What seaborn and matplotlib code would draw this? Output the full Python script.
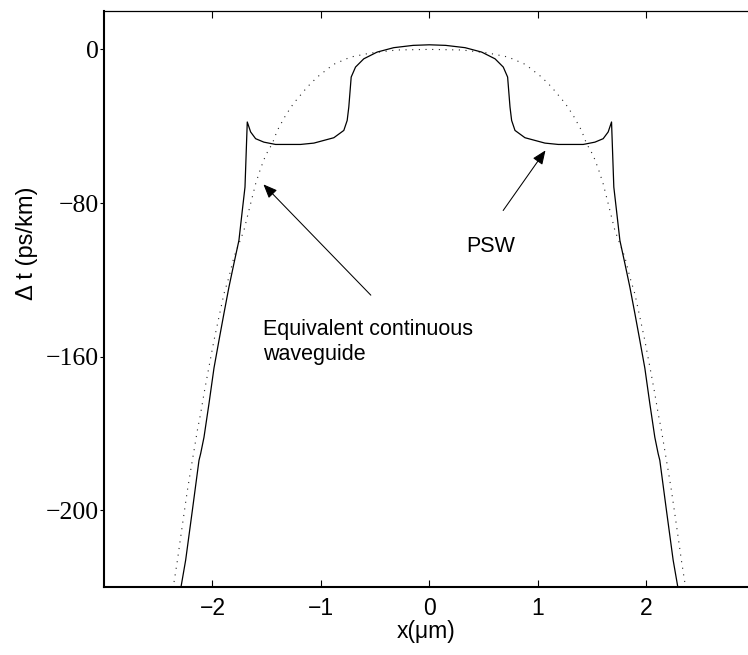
import numpy as np
import pandas as pd
import matplotlib
matplotlib.use("Agg")
import matplotlib.pyplot as plt
import seaborn as sns

# PSW curve (solid)
psw_x = [-2.29, -2.247, -2.185, -2.124, -2.109, -2.078, -2.032, -1.986, -1.94, -1.894,
         -1.848, -1.802, -1.756, -1.725, -1.70, -1.679, -1.648, -1.602, -1.526, -1.418,
         -1.188, -1.065, -0.973, -0.881, -0.789, -0.758, -0.743, -0.721, -0.681, -0.605,
         -0.482, -0.329, -0.15, 0.0,
         0.15, 0.329, 0.482, 0.605, 0.681, 0.721, 0.743, 0.758, 0.789, 0.881,
         0.973, 1.065, 1.188, 1.418, 1.526, 1.602, 1.648, 1.679, 1.70, 1.725,
         1.756, 1.802, 1.848, 1.894, 1.94, 1.986, 2.032, 2.078, 2.109, 2.124,
         2.185, 2.247, 2.29]
psw_y = [-280, -266, -240, -214, -210.6, -202, -184.5, -166, -151.6, -137.5,
         -123.8, -111.5, -99.5, -84, -71.7, -37.8, -43, -46.5, -48.3, -49.5,
         -49.5, -48.8, -47.4, -46, -42.2, -37, -30, -14.4, -9.2, -4.9,
         -1.4, 0.9, 2.1, 2.4,
         2.1, 0.9, -1.4, -4.9, -9.2, -14.4, -30, -37, -42.2, -46,
         -47.4, -48.8, -49.5, -49.5, -48.3, -46.5, -43, -37.8, -71.7, -84,
         -99.5, -111.5, -123.8, -137.5, -151.6, -166, -184.5, -202, -210.6, -214,
         -240, -266, -280]

# equivalent continuous waveguide (dotted)
ecw_x = [-2.354, -2.323, -2.293, -2.262, -2.231, -2.201, -2.170, -2.139, -2.109, -2.078,
         -2.041, -1.986, -1.94, -1.894, -1.848, -1.802, -1.71, -1.664, -1.602, -1.556,
         -1.510, -1.448, -1.402, -1.326, -1.252, -1.126, -1.034, -0.884, -0.727, -0.543,
         -0.30, 0.0,
         0.30, 0.543, 0.727, 0.884, 1.034, 1.126, 1.252, 1.326, 1.402, 1.448,
         1.510, 1.556, 1.602, 1.664, 1.71, 1.802, 1.848, 1.894, 1.94, 1.986,
         2.041, 2.078, 2.109, 2.139, 2.170, 2.201, 2.231, 2.262, 2.293, 2.323, 2.354]
ecw_y = [-277.4, -266.1, -254, -241.8, -229.7, -219.3, -208.9, -198.4, -189.7, -179.3,
         -168, -151.6, -139.4, -127.3, -118.6, -108.2, -94.3, -83.9, -70, -62,
         -55.2, -49, -42.2, -34.4, -28.1, -19.6, -14.4, -7.8, -4.0, -1.9,
         -0.3, 0.0,
         -0.3, -1.9, -4.0, -7.8, -14.4, -19.6, -28.1, -34.4, -42.2, -49,
         -55.2, -62, -70, -83.9, -94.3, -108.2, -118.6, -127.3, -139.4, -151.6,
         -168, -179.3, -189.7, -198.4, -208.9, -219.3, -229.7, -241.8, -254, -266.1, -277.4]

x_ticks = [-2, -1, 0, 1, 2]
x_tick_labels = ["\u22122", "\u22121", "0", "1", "2"]
y_ticks = [0, -80, -160, -240]
y_tick_labels = ["0", "\u221280", "\u2212160", "\u2212200"]

sns.set_style("white")
plt.rcParams['font.family'] = ['Liberation Sans', 'DejaVu Sans']
plt.rcParams['text.color'] = 'k'
plt.rcParams['axes.labelcolor'] = 'k'

df_psw = pd.DataFrame({"x": psw_x, "y": psw_y})
df_ecw = pd.DataFrame({"x": ecw_x, "y": ecw_y})

fig = plt.figure(figsize=(7.48, 6.55), dpi=100)
ax = fig.add_axes([0.1390, 0.1038, 0.861, 0.8794])

sns.lineplot(data=df_ecw, x="x", y="y", ax=ax, sort=False, estimator=None,
             color="0.15", lw=0.8, linestyle=(0, (1, 5)))
sns.lineplot(data=df_psw, x="x", y="y", ax=ax, sort=False, estimator=None,
             color="k", lw=0.9)

ax.set_xlim(-3, 2.937)
ax.set_ylim(-280, 20)

ax.set_xticks(x_ticks)
ax.set_xticklabels(x_tick_labels, fontsize=16.5, family="Liberation Sans")
ax.set_yticks(y_ticks)
ax.set_yticklabels(y_tick_labels, fontsize=18.5, family="Liberation Serif")

ax.tick_params(axis="x", which="both", direction="in", length=5, width=0.8,
               top=True, bottom=True, pad=7, colors="k")
ax.tick_params(axis="y", which="both", direction="out", length=3, width=0.8,
               left=True, right=False, pad=0.5, colors="k")

for side in ["left", "bottom"]:
    ax.spines[side].set_linewidth(1.5)
    ax.spines[side].set_color("k")
ax.spines["top"].set_linewidth(0.9)
ax.spines["top"].set_color("k")
ax.spines["right"].set_visible(False)

ax.set_xlabel("x(\u03bcm)", fontsize=16.5, color="k")
ax.set_ylabel("\u0394 t (ps/km)", fontsize=17, color="k")
ax.xaxis.set_label_coords(0.5008, -0.057)
ax.yaxis.set_label_coords(-0.1025, 0.597)

arrow = dict(arrowstyle="-|>,head_length=0.6,head_width=0.25", color="k",
             lw=0.75, mutation_scale=14, shrinkA=0, shrinkB=0)
ax.annotate("", xy=(-1.53, -70.3), xytext=(-0.54, -128), arrowprops=arrow)
ax.annotate("", xy=(1.07, -52.6), xytext=(0.68, -83.9), arrowprops=arrow)

# va="baseline" on multi-line text anchors the last line
ax.text(-1.53, -162, "Equivalent continuous\nwaveguide", fontsize=15.5,
        ha="left", va="baseline", linespacing=1.3, color="k")
ax.text(0.34, -105.7, "PSW", fontsize=15.5, ha="left", va="baseline", color="k")

fig.savefig("out.png", dpi=100)
